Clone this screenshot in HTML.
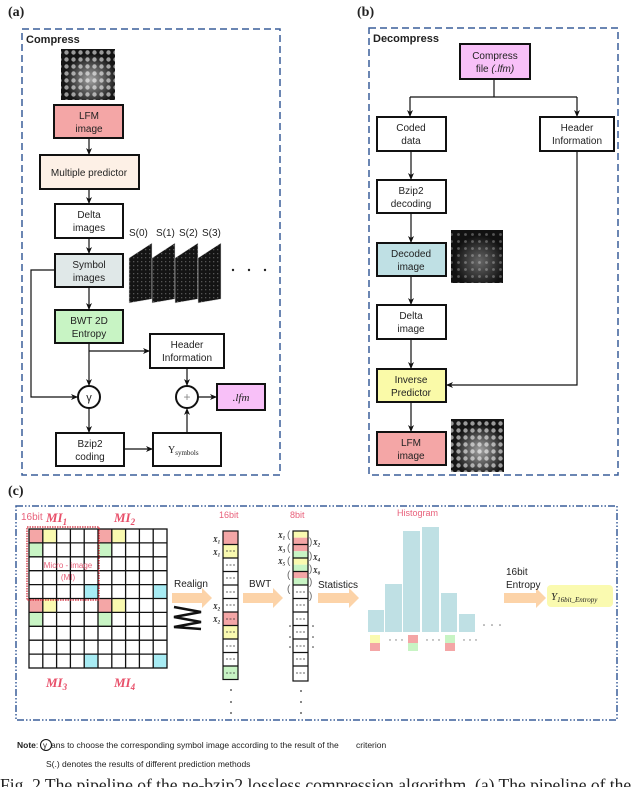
<!DOCTYPE html>
<html><head><meta charset="utf-8"><style>
html,body{margin:0;padding:0;background:#fff;width:640px;height:787px;overflow:hidden}
svg{display:block}
text{font-family:"Liberation Sans",sans-serif;fill:#222}
</style></head><body>
<svg width="640" height="787" viewBox="0 0 640 787" xmlns="http://www.w3.org/2000/svg">
<defs>
<marker id="ar" markerWidth="8" markerHeight="8" refX="7" refY="4" orient="auto" markerUnits="userSpaceOnUse"><path d="M0,1 L7,4 L0,7 L2,4 Z" fill="#111"/></marker>
<pattern id="mi" width="7" height="7" patternUnits="userSpaceOnUse"><rect width="7" height="7" fill="#151515"/><circle cx="3.5" cy="3.5" r="2.2" fill="#9a9a9a"/></pattern>
<pattern id="mi2" width="7" height="7" patternUnits="userSpaceOnUse"><rect width="7" height="7" fill="#111"/><circle cx="3.5" cy="3.5" r="1.4" fill="#555"/></pattern>
<pattern id="ms" width="4" height="4" patternUnits="userSpaceOnUse"><rect width="4" height="4" fill="#141414"/><rect x="1" y="1" width="1.3" height="1.3" fill="#555"/></pattern>
<radialGradient id="glow" cx="0.55" cy="0.6" r="0.5"><stop offset="0" stop-color="#fff" stop-opacity="0.6"/><stop offset="1" stop-color="#fff" stop-opacity="0"/></radialGradient>
</defs>
<!-- (a) -->
<text x="8" y="16" style="font-family:'Liberation Serif',serif;font-weight:bold;font-size:14px">(a)</text>
<rect x="22" y="29" width="258" height="446" fill="none" stroke="#3a5f9a" stroke-width="1.5" stroke-dasharray="7,4"/>
<text x="26" y="43" font-size="11" font-weight="bold">Compress</text>
<rect x="61" y="49" width="54" height="51" fill="url(#mi)"/><rect x="61" y="49" width="54" height="51" fill="url(#glow)"/>
<g stroke="#111" stroke-width="2">
<rect x="54" y="105" width="69" height="33" fill="#f4a6a6"/>
<rect x="40" y="155" width="99" height="34" fill="#fdf0e6"/>
<rect x="55" y="204" width="68" height="34" fill="#fff"/>
<rect x="55" y="254" width="68" height="33" fill="#e0e8e8"/>
<rect x="55" y="310" width="68" height="33" fill="#c8f4c4"/>
<rect x="150" y="334" width="74" height="34" fill="#fff"/>
<circle cx="89" cy="397" r="11" fill="#fff"/>
<circle cx="187" cy="397" r="11" fill="#fff"/>
<rect x="217" y="384" width="48" height="26" fill="#f8c0f8"/>
<rect x="56" y="433" width="68" height="33" fill="#fff"/>
<rect x="153" y="433" width="68" height="33" fill="#fff"/>
</g>
<g stroke="#111" stroke-width="1.2" fill="none" marker-end="url(#ar)">
<path d="M89,138 V155"/><path d="M89,189 V204"/><path d="M89,238 V254"/><path d="M89,287 V310"/>
<path d="M89,343 V386"/><path d="M89,351 H150"/>
<path d="M55,270 H31 V397 H78"/>
<path d="M187,368 V386"/><path d="M198,397 H217"/>
<path d="M89,408 V433"/><path d="M124,449 H153"/><path d="M187,433 V408"/>
</g>
<g font-size="10" text-anchor="middle">
<text x="89" y="119">LFM</text><text x="89" y="132">image</text>
<text x="89" y="176">Multiple predictor</text>
<text x="89" y="218">Delta</text><text x="89" y="231">images</text>
<text x="89" y="268">Symbol</text><text x="89" y="281">images</text>
<text x="89" y="324">BWT 2D</text><text x="89" y="337">Entropy</text>
<text x="187" y="348">Header</text><text x="187" y="361">Information</text>
<text x="89" y="401" font-size="11">γ</text>
<text x="187" y="401" font-size="12" style="fill:#888">+</text>
<text x="241" y="401" style="font-family:'Liberation Serif',serif;font-style:italic;font-size:11px">.lfm</text>
<text x="90" y="447">Bzip2</text><text x="90" y="460">coding</text>
</g>
<text x="168" y="453" style="font-family:'Liberation Serif',serif;font-size:10px">Y<tspan font-size="7" dy="2">symbols</tspan></text>
<g font-size="10"><text x="129" y="236">S(0)</text><text x="156" y="236">S(1)</text><text x="179" y="236">S(2)</text><text x="202" y="236">S(3)</text></g>
<g fill="url(#ms)" stroke="#ddd" stroke-width="0.5">
<path d="M129,258 L152,243 L152,299 L129,303Z"/>
<path d="M152,258 L175,243 L175,299 L152,303Z"/>
<path d="M175,258 L198,243 L198,299 L175,303Z"/>
<path d="M198,258 L221,243 L221,299 L198,303Z"/>
</g>
<g fill="#222"><circle cx="233" cy="270" r="1.2"/><circle cx="249" cy="270" r="1.2"/><circle cx="265" cy="270" r="1.2"/></g>

<!-- (b) -->
<text x="357" y="16" style="font-family:'Liberation Serif',serif;font-weight:bold;font-size:14px">(b)</text>
<rect x="369" y="28" width="249" height="447" fill="none" stroke="#3a5f9a" stroke-width="1.5" stroke-dasharray="7,4"/>
<text x="373" y="42" font-size="11" font-weight="bold">Decompress</text>
<g stroke="#111" stroke-width="2">
<rect x="460" y="44" width="70" height="35" fill="#f8c0f8"/>
<rect x="377" y="117" width="69" height="34" fill="#fff"/>
<rect x="540" y="117" width="74" height="34" fill="#fff"/>
<rect x="377" y="180" width="69" height="33" fill="#fff"/>
<rect x="377" y="243" width="69" height="33" fill="#bfe0e4"/>
<rect x="377" y="305" width="69" height="34" fill="#fff"/>
<rect x="377" y="369" width="69" height="33" fill="#fafaa8"/>
<rect x="377" y="432" width="69" height="33" fill="#f4a6a6"/>
</g>
<rect x="451" y="230" width="52" height="53" fill="url(#mi2)"/><rect x="451" y="230" width="52" height="53" fill="url(#glow)" opacity="0.6"/>
<rect x="451" y="419" width="53" height="53" fill="url(#mi)"/><rect x="451" y="419" width="53" height="53" fill="url(#glow)"/>
<g stroke="#111" stroke-width="1.2" fill="none">
<path d="M494,79 V97 M410,97 H577"/>
</g>
<g stroke="#111" stroke-width="1.2" fill="none" marker-end="url(#ar)">
<path d="M410,97 V117"/><path d="M577,97 V117"/>
<path d="M411,151 V180"/><path d="M411,213 V243"/><path d="M411,276 V305"/><path d="M411,339 V369"/><path d="M411,402 V432"/>
<path d="M577,151 V385 H446"/>
</g>
<g font-size="10" text-anchor="middle">
<text x="495" y="59">Compress</text><text x="495" y="72">file <tspan font-style="italic">(.lfm)</tspan></text>
<text x="411" y="131">Coded</text><text x="411" y="144">data</text>
<text x="577" y="131">Header</text><text x="577" y="144">Information</text>
<text x="411" y="194">Bzip2</text><text x="411" y="207">decoding</text>
<text x="411" y="257">Decoded</text><text x="411" y="270">image</text>
<text x="411" y="319">Delta</text><text x="411" y="332">image</text>
<text x="411" y="383">Inverse</text><text x="411" y="396">Predictor</text>
<text x="411" y="446">LFM</text><text x="411" y="459">image</text>
</g>

<!-- (c) -->
<text x="8" y="495" style="font-family:'Liberation Serif',serif;font-weight:bold;font-size:14px">(c)</text>
<rect x="16" y="506" width="601" height="214" fill="none" stroke="#3a5f9a" stroke-width="1.5" stroke-dasharray="7,2,1.5,2,1.5,2"/>
<text x="21" y="520" font-size="10" style="fill:#e8607a">16bit</text>
<text x="46" y="522" style="font-family:'Liberation Serif',serif;font-style:italic;font-weight:bold;font-size:13px;fill:#e8506a">MI<tspan font-size="9" dy="3">1</tspan></text>
<text x="114" y="522" style="font-family:'Liberation Serif',serif;font-style:italic;font-weight:bold;font-size:13px;fill:#e8506a">MI<tspan font-size="9" dy="3">2</tspan></text>
<text x="46" y="687" style="font-family:'Liberation Serif',serif;font-style:italic;font-weight:bold;font-size:13px;fill:#e8506a">MI<tspan font-size="9" dy="3">3</tspan></text>
<text x="114" y="687" style="font-family:'Liberation Serif',serif;font-style:italic;font-weight:bold;font-size:13px;fill:#e8506a">MI<tspan font-size="9" dy="3">4</tspan></text>
<g stroke="none">
<rect x="29" y="529" width="13.8" height="13.9" fill="#f4a6a6"/><rect x="98" y="529" width="13.8" height="13.9" fill="#f4a6a6"/>
<rect x="29" y="598.5" width="13.8" height="13.9" fill="#f4a6a6"/><rect x="98" y="598.5" width="13.8" height="13.9" fill="#f4a6a6"/>
<rect x="42.8" y="529" width="13.8" height="13.9" fill="#fafab0"/><rect x="111.8" y="529" width="13.8" height="13.9" fill="#fafab0"/>
<rect x="42.8" y="598.5" width="13.8" height="13.9" fill="#fafab0"/><rect x="111.8" y="598.5" width="13.8" height="13.9" fill="#fafab0"/>
<rect x="29" y="542.9" width="13.8" height="13.9" fill="#c8f4c4"/><rect x="98" y="542.9" width="13.8" height="13.9" fill="#c8f4c4"/>
<rect x="29" y="612.4" width="13.8" height="13.9" fill="#c8f4c4"/><rect x="98" y="612.4" width="13.8" height="13.9" fill="#c8f4c4"/>
<rect x="84.2" y="584.6" width="13.8" height="13.9" fill="#a8ecf4"/><rect x="153.2" y="584.6" width="13.8" height="13.9" fill="#a8ecf4"/>
<rect x="84.2" y="654.1" width="13.8" height="13.9" fill="#a8ecf4"/><rect x="153.2" y="654.1" width="13.8" height="13.9" fill="#a8ecf4"/>
</g>
<g stroke="#111" stroke-width="1.3" fill="none">
<rect x="29" y="529" width="138" height="139"/>
<path d="M42.8,529V668M56.6,529V668M70.4,529V668M84.2,529V668M98,529V668M111.8,529V668M125.6,529V668M139.4,529V668M153.2,529V668"/>
<path d="M29,542.9H167M29,556.8H167M29,570.7H167M29,584.6H167M29,598.5H167M29,612.4H167M29,626.3H167M29,640.2H167M29,654.1H167"/>
</g>
<rect x="27" y="527" width="72" height="73" fill="none" stroke="#d02030" stroke-width="1.2" stroke-dasharray="1.5,1"/>
<text x="68" y="568" font-size="8" text-anchor="middle" style="fill:#e8607a">Micro - image</text>
<text x="68" y="580" font-size="8" text-anchor="middle" style="fill:#e8607a">(MI)</text>
<g fill="#fcd3a8">
<path d="M172,593 H202 V588 L212,598 L202,608 V603 H172Z"/>
<path d="M243,593 H273 V588 L283,598 L273,608 V603 H243Z"/>
<path d="M318,593 H349 V588 L359,598 L349,608 V603 H318Z"/>
<path d="M504,593 H536 V588 L546,598 L536,608 V603 H504Z"/>
</g>
<path d="M174,607 L201,612 L174,617 L201,622 L174,627 L201,629" stroke="#111" stroke-width="2.5" fill="none"/>
<g font-size="10"><text x="174" y="587">Realign</text><text x="249" y="587">BWT</text><text x="318" y="588">Statistics</text>
<text x="506" y="575">16bit</text><text x="506" y="588">Entropy</text></g>
<text x="219" y="518" font-size="9" style="fill:#e8607a">16bit</text>
<text x="290" y="518" font-size="9" style="fill:#e8607a">8bit</text>
<text x="397" y="516" font-size="9" style="fill:#e8607a">Histogram</text>
<g stroke="none">
<rect x="223" y="531" width="15" height="13.5" fill="#f4a6a6"/><rect x="223" y="544.5" width="15" height="13.5" fill="#fafab0"/>
<rect x="223" y="612" width="15" height="13.5" fill="#f4a6a6"/><rect x="223" y="625.5" width="15" height="13.5" fill="#fafab0"/>
<rect x="223" y="666" width="15" height="13.5" fill="#c8f4c4"/>
<rect x="293" y="531" width="15" height="6.7" fill="#fafab0"/><rect x="293" y="537.7" width="15" height="6.8" fill="#f4a6a6"/>
<rect x="293" y="544.5" width="15" height="6.7" fill="#f4a6a6"/><rect x="293" y="551.2" width="15" height="6.8" fill="#c8f4c4"/>
<rect x="293" y="558" width="15" height="6.7" fill="#fafab0"/><rect x="293" y="564.7" width="15" height="6.8" fill="#c8f4c4"/>
<rect x="293" y="571.5" width="15" height="6.7" fill="#f4a6a6"/><rect x="293" y="578.2" width="15" height="6.8" fill="#c8f4c4"/>
</g>
<g stroke="#111" stroke-width="1.2" fill="none">
<rect x="223" y="531" width="15" height="148.5"/>
<path d="M223,544.5H238M223,558H238M223,571.5H238M223,585H238M223,598.5H238M223,612H238M223,625.5H238M223,639H238M223,652.5H238M223,666H238"/>
<rect x="293" y="531" width="15" height="150"/>
<path d="M293,544.5H308M293,558H308M293,571.5H308M293,585H308M293,598.5H308M293,612H308M293,625.5H308M293,639H308M293,652.5H308M293,666H308"/>
</g>
<g stroke="#333" stroke-width="0.8" stroke-dasharray="2,1.5">
<path d="M226,551H235M226,565H235M226,578H235M226,592H235M226,605H235M226,619H235M226,632H235M226,646H235M226,659H235M226,673H235"/>
<path d="M296,592H305M296,605H305M296,619H305M296,632H305M296,646H305M296,659H305M296,673H305"/>
</g>
<g>
<text x="213" y="542" style="font-family:'Liberation Serif',serif;font-style:italic;font-weight:bold;font-size:7px">X<tspan font-size="5" dy="1.5">1</tspan></text>
<text x="213" y="555" style="font-family:'Liberation Serif',serif;font-style:italic;font-weight:bold;font-size:7px">X<tspan font-size="5" dy="1.5">1</tspan></text>
<text x="213" y="609" style="font-family:'Liberation Serif',serif;font-style:italic;font-weight:bold;font-size:7px">X<tspan font-size="5" dy="1.5">2</tspan></text>
<text x="213" y="622" style="font-family:'Liberation Serif',serif;font-style:italic;font-weight:bold;font-size:7px">X<tspan font-size="5" dy="1.5">2</tspan></text>
<text x="278" y="538" style="font-family:'Liberation Serif',serif;font-style:italic;font-weight:bold;font-size:7px">X<tspan font-size="5" dy="1.5">1</tspan></text>
<text x="278" y="551" style="font-family:'Liberation Serif',serif;font-style:italic;font-weight:bold;font-size:7px">X<tspan font-size="5" dy="1.5">3</tspan></text>
<text x="278" y="564" style="font-family:'Liberation Serif',serif;font-style:italic;font-weight:bold;font-size:7px">X<tspan font-size="5" dy="1.5">5</tspan></text>
<text x="313" y="545" style="font-family:'Liberation Serif',serif;font-style:italic;font-weight:bold;font-size:7px">X<tspan font-size="5" dy="1.5">2</tspan></text>
<text x="313" y="560" style="font-family:'Liberation Serif',serif;font-style:italic;font-weight:bold;font-size:7px">X<tspan font-size="5" dy="1.5">4</tspan></text>
<text x="313" y="573" style="font-family:'Liberation Serif',serif;font-style:italic;font-weight:bold;font-size:7px">X<tspan font-size="5" dy="1.5">6</tspan></text>
</g>
<g font-size="10"><text x="287" y="538" style="fill:#666">(</text><text x="287" y="551" style="fill:#666">(</text><text x="287" y="564" style="fill:#666">(</text><text x="287" y="578" style="fill:#666">(</text><text x="287" y="592" style="fill:#666">(</text>
<text x="309" y="545" style="fill:#666">)</text><text x="309" y="559" style="fill:#666">)</text><text x="309" y="572" style="fill:#666">)</text><text x="309" y="585" style="fill:#666">)</text><text x="309" y="599" style="fill:#666">)</text></g>
<g fill="#333">
<circle cx="231" cy="690" r="0.9"/><circle cx="231" cy="702" r="0.9"/><circle cx="231" cy="713" r="0.9"/>
<circle cx="301" cy="691" r="0.9"/><circle cx="301" cy="702" r="0.9"/><circle cx="301" cy="713" r="0.9"/>
<circle cx="290" cy="626" r="0.8"/><circle cx="290" cy="637" r="0.8"/><circle cx="290" cy="647" r="0.8"/>
<circle cx="313" cy="626" r="0.8"/><circle cx="313" cy="637" r="0.8"/><circle cx="313" cy="647" r="0.8"/>
</g>
<g fill="#bfe0e4">
<rect x="368" y="610" width="16" height="22"/><rect x="385" y="584" width="17" height="48"/>
<rect x="403" y="531" width="17" height="101"/><rect x="422" y="527" width="17" height="105"/>
<rect x="441" y="593" width="16" height="39"/><rect x="459" y="614" width="16" height="18"/>
</g>
<g fill="#777"><circle cx="484" cy="625" r="0.8"/><circle cx="492" cy="625" r="0.8"/><circle cx="500" cy="625" r="0.8"/>
<circle cx="390" cy="640" r="0.7"/><circle cx="396" cy="640" r="0.7"/><circle cx="402" cy="640" r="0.7"/>
<circle cx="427" cy="640" r="0.7"/><circle cx="433" cy="640" r="0.7"/><circle cx="439" cy="640" r="0.7"/>
<circle cx="464" cy="640" r="0.7"/><circle cx="470" cy="640" r="0.7"/><circle cx="476" cy="640" r="0.7"/></g>
<rect x="370" y="635" width="10" height="8" fill="#fafab0"/><rect x="370" y="643" width="10" height="8" fill="#f4a6a6"/>
<rect x="408" y="635" width="10" height="8" fill="#f4a6a6"/><rect x="408" y="643" width="10" height="8" fill="#c8f4c4"/>
<rect x="445" y="635" width="10" height="8" fill="#c8f4c4"/><rect x="445" y="643" width="10" height="8" fill="#f4a6a6"/>
<rect x="547" y="585" width="66" height="22" rx="4" fill="#fafab0"/>
<text x="551" y="600" style="font-family:'Liberation Serif',serif;font-style:italic;font-size:11px">Y<tspan font-size="7" dy="2">16bit_Entropy</tspan></text>
<text x="17" y="748" font-size="8.5"><tspan font-weight="bold">Note</tspan>: </text>
<circle cx="46" cy="745" r="5.5" fill="none" stroke="#111" stroke-width="1"/>
<text x="43" y="748" font-size="8">γ</text>
<text x="51" y="748" font-size="8.5">ans to choose the corresponding symbol image according to the result of the</text>
<text x="356" y="748" font-size="8.5">criterion</text>
<text x="46" y="767" font-size="8.5">S(.) denotes the results of different prediction methods</text>
<text x="0" y="791" style="font-family:'Liberation Serif',serif;font-size:17.5px;fill:#222">Fig. 2 The pipeline of the ne-bzip2 lossless compression algorithm. (a) The pipeline of the</text>
</svg>
</body></html>
